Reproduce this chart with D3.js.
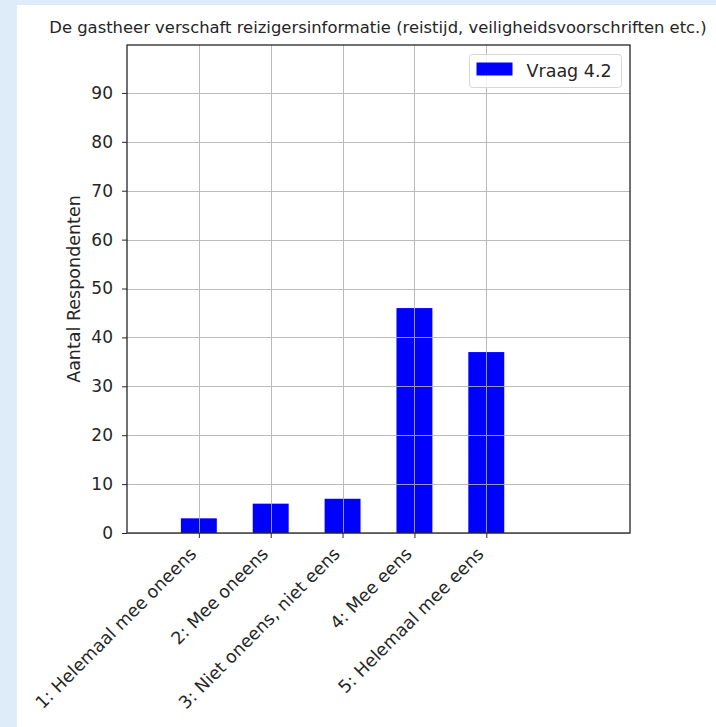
<!DOCTYPE html>
<html>
<head>
<meta charset="utf-8">
<script src="https://cdn.jsdelivr.net/npm/d3@7/dist/d3.min.js"></script>
<style>
  html, body { margin: 0; padding: 0; background: #ddecf8; }
  svg { display: block; }
  text { font-family: "DejaVu Sans", sans-serif; fill: #262626; }
</style>
</head>
<body>
<svg id="chart" width="716" height="727"></svg>
<script>
// Antwoordcategorieën en aantallen respondenten
const categories = [
  "1: Helemaal mee oneens",
  "2: Mee oneens",
  "3: Niet oneens, niet eens",
  "4: Mee eens",
  "5: Helemaal mee eens"
];
const counts = [3, 6, 7, 46, 37];
const seriesName = "Vraag 4.2";
const yTicks = [0, 10, 20, 30, 40, 50, 60, 70, 80, 90];
const title = "De gastheer verschaft reizigersinformatie (reistijd, veiligheidsvoorschriften etc.)";

const svg = d3.select("#chart");

// witte figuurachtergrond
svg.append("rect").attr("x", 17).attr("y", 5).attr("width", 716 - 17).attr("height", 727 - 5).attr("fill", "#ffffff");

const plot = { left: 127, right: 630, top: 45, bottom: 533 };

// x: categorie-index, domein -1..6 zoals de asgrenzen
const x = d3.scaleLinear().domain([-1, 6]).range([plot.left, plot.right]);
const y = d3.scaleLinear().domain([0, 99.8]).range([plot.bottom, plot.top]);
const barW = x(0.5) - x(0);

const g = svg.append("g");

// staven
g.selectAll("rect.bar").data(counts).join("rect")
  .attr("class", "bar")
  .attr("x", (d, i) => x(i) - barW / 2)
  .attr("y", d => y(d))
  .attr("width", barW)
  .attr("height", d => y(0) - y(d))
  .attr("fill", "#0000ff");

// rasterlijnen boven de staven
const grid = g.append("g").attr("stroke", "#b0b0b0").attr("stroke-width", 1).attr("opacity", 0.85);
grid.selectAll("line.h").data(yTicks).join("line")
  .attr("x1", plot.left).attr("x2", plot.right)
  .attr("y1", d => Math.round(y(d)) + 0.5).attr("y2", d => Math.round(y(d)) + 0.5);
grid.selectAll("line.v").data(categories.map((c, i) => i)).join("line")
  .attr("y1", plot.top).attr("y2", plot.bottom)
  .attr("x1", d => Math.round(x(d)) + 0.5).attr("x2", d => Math.round(x(d)) + 0.5);

// assen
const yAxis = d3.axisLeft(y).tickValues(yTicks).tickSize(5).tickPadding(9).tickFormat(d3.format("d"));
const yG = g.append("g").attr("transform", `translate(${plot.left},0)`).call(yAxis);
yG.select(".domain").remove();
yG.selectAll("line").attr("stroke", "#262626");
yG.selectAll("text").attr("font-size", 17).attr("fill", "#262626").attr("font-family", "DejaVu Sans, sans-serif");

const xAxis = d3.axisBottom(x).tickValues(categories.map((c, i) => i)).tickSize(5).tickFormat(i => categories[i]);
const xG = g.append("g").attr("transform", `translate(0,${plot.bottom})`).call(xAxis);
xG.select(".domain").remove();
xG.selectAll("line").attr("stroke", "#262626");
xG.selectAll("text")
  .attr("font-size", 17.5)
  .attr("fill", "#262626")
  .attr("font-family", "DejaVu Sans, sans-serif")
  .attr("text-anchor", "end")
  .attr("dy", null)
  .attr("y", 0)
  .attr("transform", "translate(-2,22) rotate(-45)");

// kader
g.append("rect")
  .attr("x", plot.left).attr("y", plot.top)
  .attr("width", plot.right - plot.left).attr("height", plot.bottom - plot.top)
  .attr("fill", "none").attr("stroke", "#262626").attr("stroke-width", 1.3);

// titel
svg.append("text")
  .attr("x", 378).attr("y", 33)
  .attr("text-anchor", "middle").attr("font-size", 16.4)
  .text(title);

// y-aslabel
svg.append("text")
  .attr("transform", `translate(80,${(plot.top + plot.bottom) / 2}) rotate(-90)`)
  .attr("text-anchor", "middle").attr("font-size", 17.5)
  .text("Aantal Respondenten");

// legenda
const lg = svg.append("g").attr("transform", "translate(469.5,54.5)");
lg.append("rect").attr("width", 152).attr("height", 33).attr("rx", 3)
  .attr("fill", "#ffffff").attr("fill-opacity", 0.8).attr("stroke", "#d6d6d6");
lg.append("rect").attr("x", 7).attr("y", 8).attr("width", 36).attr("height", 13).attr("fill", "#0000ff");
lg.append("text").attr("x", 57).attr("y", 22).attr("font-size", 17.5).text(seriesName);
</script>
</body>
</html>
